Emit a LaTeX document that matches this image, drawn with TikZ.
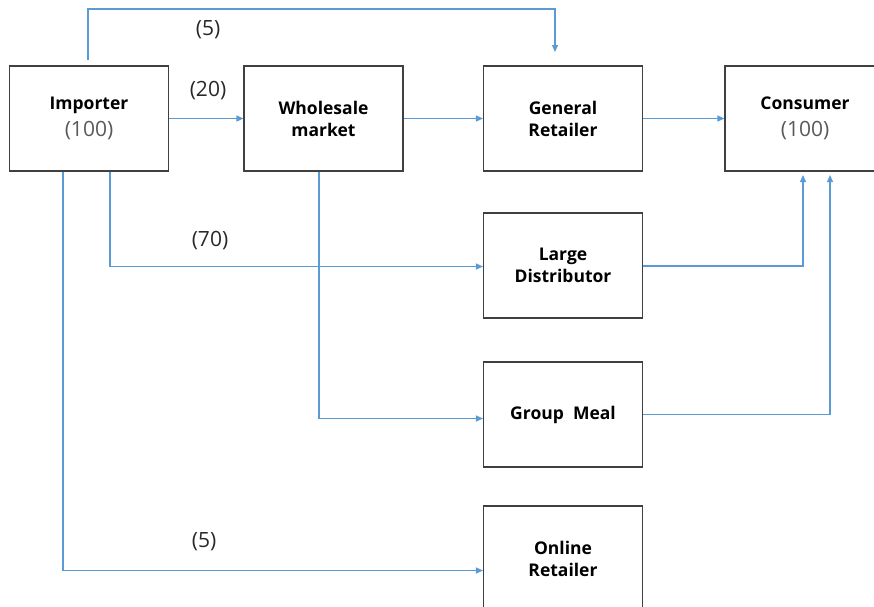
\documentclass[tikz,border=0pt]{standalone}
\usepackage{fontspec}
\setmainfont{Open Sans}
\usetikzlibrary{arrows.meta}
\definecolor{flowblue}{RGB}{91,155,213}
\definecolor{boxline}{RGB}{64,64,64}
\definecolor{sharetext}{RGB}{89,89,89}
\definecolor{labeltext}{RGB}{40,40,40}
\tikzset{
  stage/.style={draw=boxline, line width=1.1pt, rectangle, minimum width=159pt,
    minimum height=105pt, align=center, inner sep=0pt,
    font=\fontsize{17.5}{22}\selectfont\bfseries},
  flow/.style={draw=flowblue, line width=1.3pt,
    -{Triangle[length=7pt,width=6pt]}},
  share/.style={font=\fontsize{21}{24}\selectfont, text=labeltext, inner sep=0pt},
}
\newcommand{\qty}[1]{\\[5pt]{\fontsize{21}{24}\selectfont\mdseries\color{sharetext}#1}}
\begin{document}
\begin{tikzpicture}[x=1pt,y=-1pt]
  \useasboundingbox (0,0) rectangle (874,606);
  \begin{scope}
  \clip (0,0) rectangle (874,606);

  % stages of the supply chain
  \node[stage] (imp) at (89,118.5)   {\bfseries Importer\qty{(100)}};
  \node[stage] (wm)  at (323.5,118.5) {\bfseries Wholesale\\\bfseries market};
  \node[stage] (gr)  at (563,118.5)  {\bfseries General\\\bfseries Retailer};
  \node[stage, minimum width=160pt] (con) at (805,118.5) {\bfseries Consumer\qty{(100)}};
  \node[stage] (ld)  at (563,265.5)  {\bfseries Large\\\bfseries Distributor};
  \node[stage] (gm)  at (563,414.5)  {\bfseries Group\ \ Meal};
  \node[stage] (on)  at (563,558.5)  {\bfseries Online\\\bfseries Retailer};

  % helper points for bends and arrow ends
  \coordinate (topbend) at (88,9);
  \coordinate (grtop) at (555,52);
  \coordinate (conA) at (803,175);
  \coordinate (conB) at (830,175);

  % flows
  \draw[flow] ([xshift=-1pt,yshift=5pt]imp.north) -- (topbend) -| (grtop);
  \draw[flow] (imp.east) -- (wm.west);
  \draw[flow] (wm.east) -- (gr.west);
  \draw[flow] (gr.east) -- (con.west);
  \draw[flow] ([xshift=21pt]imp.south) |- ([yshift=-1pt]ld.west);
  \draw[flow] ([xshift=-26pt]imp.south) |- ([yshift=-12pt]on.west);
  \draw[flow] ([xshift=-4.5pt]wm.south) |- ([yshift=-4pt]gm.west);
  \draw[flow] ([yshift=-0.5pt]ld.east) -| (conA);
  \draw[flow] (gm.east) -| (conB);

  % shares along the flows
  \node[share] (s1) at (208,30)  {(5)};
  \node[share] (s2) at (208,91)  {(20)};
  \node[share] (s3) at (210,241) {(70)};
  \node[share] (s4) at (204,542) {(5)};
  \end{scope}
\end{tikzpicture}
\end{document}
